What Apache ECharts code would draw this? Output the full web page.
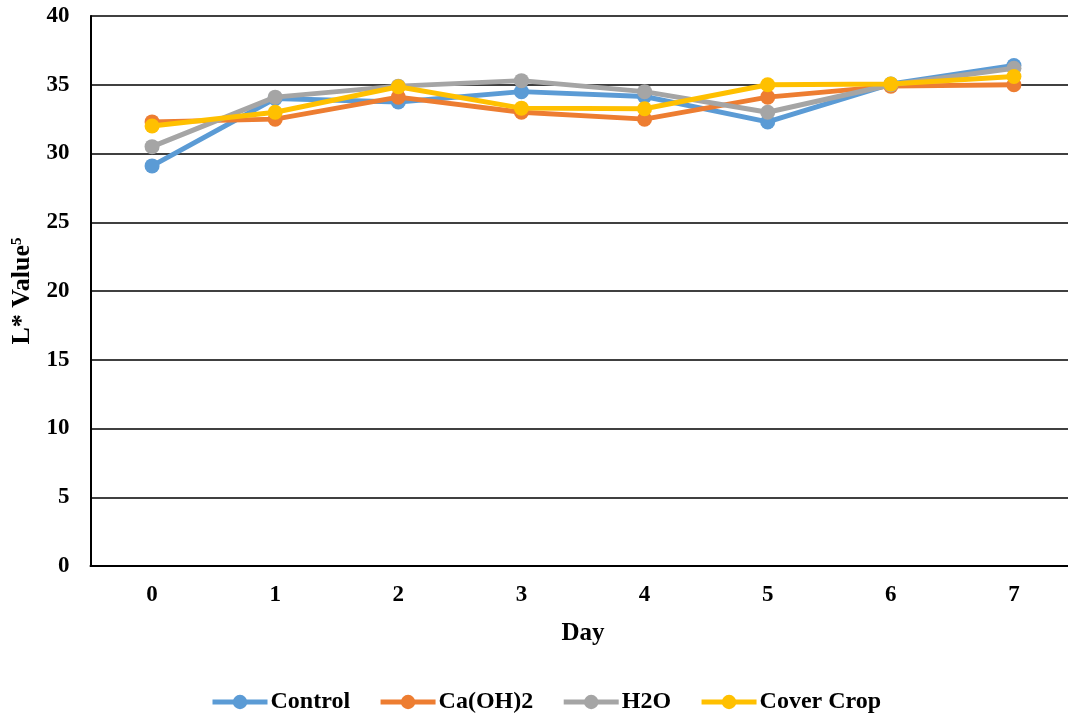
<!DOCTYPE html>
<html>
<head>
<meta charset="utf-8">
<script src="https://cdn.jsdelivr.net/npm/echarts@6/dist/echarts.min.js"></script>
<style>
  html, body { margin: 0; padding: 0; background: #fff; overflow: hidden; }
  /* canvas is a little wider than the window so the plot can run off the right edge */
  #chart { width: 1080px; height: 717px; }
</style>
</head>
<body>
<div id="chart"></div>
<script>
// Day categories and L* measurements per treatment
const days = ['0', '1', '2', '3', '4', '5', '6', '7'];
const control = [29.1, 34.0, 33.75, 34.5, 34.15, 32.3, 35.05, 36.4];
const caOH2 = [32.3, 32.5, 34.1, 33.0, 32.5, 34.1, 34.9, 35.0];
const h2o = [30.5, 34.1, 34.9, 35.3, 34.5, 33.0, 35.0, 36.2];
const coverCrop = [32.0, 33.0, 34.85, 33.3, 33.25, 35.0, 35.05, 35.6];
const seriesNames = ['Control', 'Ca(OH)2', 'H2O', 'Cover Crop'];
const seriesColors = ['#5B9BD5', '#ED7D31', '#A5A5A5', '#FFC000'];
const seriesData = [control, caOH2, h2o, coverCrop];

const font = '"Liberation Serif", "Times New Roman", serif';
const chart = echarts.init(document.getElementById('chart'), null, { renderer: 'canvas' });

chart.setOption({
  animation: false,
  backgroundColor: '#fff',
  grid: { left: 90.5, width: 985, top: 16, bottom: 151, containLabel: false },
  legend: {
    data: seriesNames,
    top: 690,
    left: 210,
    padding: 0,
    itemWidth: 55,
    itemHeight: 18,
    itemGap: 28,
    lineStyle: { width: 5 },
    textStyle: { fontFamily: font, fontWeight: 'bold', fontSize: 24, color: '#000', padding: [0, 0, 0, -2] }
  },
  xAxis: {
    type: 'category',
    data: days,
    boundaryGap: true,
    name: 'Day',
    nameLocation: 'middle',
    nameGap: 55,
    nameTextStyle: { fontFamily: font, fontWeight: 'bold', fontSize: 25, color: '#000' },
    axisLine: { lineStyle: { color: '#000', width: 2 } },
    axisTick: { show: false },
    axisLabel: { margin: 18, fontFamily: font, fontWeight: 'bold', fontSize: 23, color: '#000' }
  },
  yAxis: {
    type: 'value',
    min: 0,
    max: 40,
    interval: 5,
    name: '{a|L* Value}{s|5}',
    nameLocation: 'middle',
    nameGap: 45,
    nameRotate: 90,
    nameTextStyle: {
      rich: {
        a: { fontFamily: font, fontWeight: 'bold', fontSize: 26, color: '#000' },
        s: { fontFamily: font, fontWeight: 'bold', fontSize: 15, color: '#000', verticalAlign: 'top', padding: [0, 0, 10, 0] }
      }
    },
    axisLine: { show: true, lineStyle: { color: '#000', width: 2 } },
    axisTick: { show: false },
    axisLabel: { margin: 21, fontFamily: font, fontWeight: 'bold', fontSize: 23, color: '#000' },
    splitLine: { lineStyle: { color: '#000', width: 1.5 } }
  },
  series: seriesData.map((d, i) => ({
    name: seriesNames[i],
    type: 'line',
    data: d,
    symbol: 'circle',
    symbolSize: 15,
    color: seriesColors[i],
    lineStyle: { width: 5, color: seriesColors[i] },
    itemStyle: { color: seriesColors[i] },
    z: 2 + i
  }))
});
</script>
</body>
</html>
